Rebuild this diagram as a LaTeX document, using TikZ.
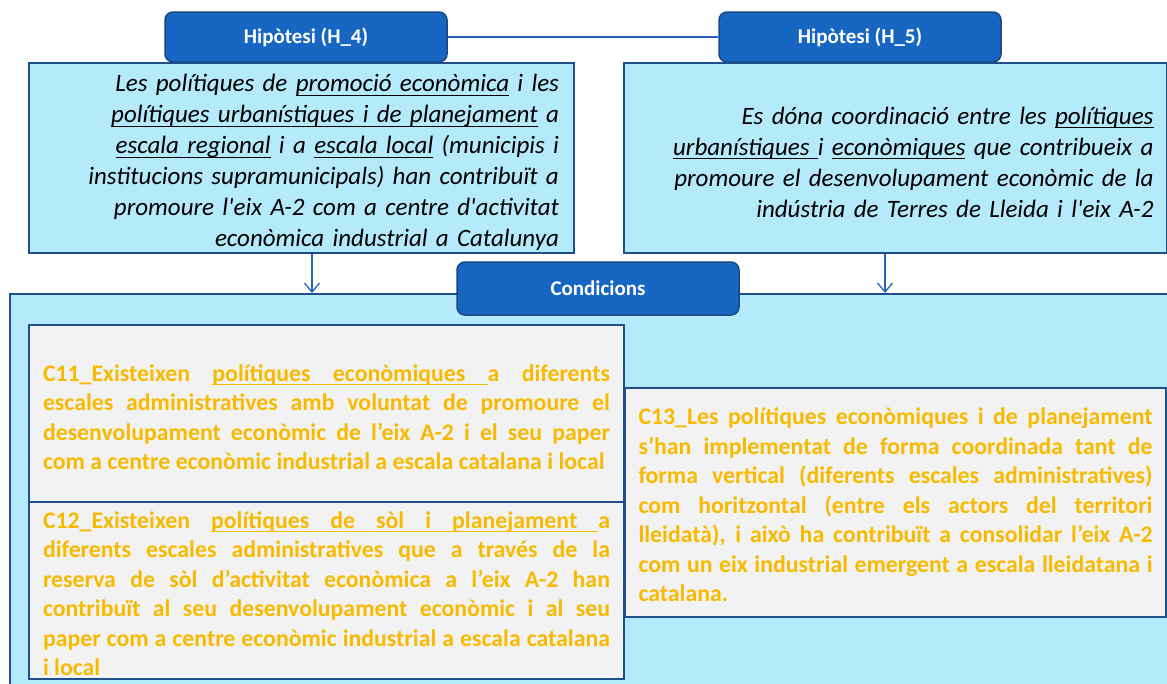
\documentclass[tikz,border=0pt]{standalone}
\usepackage{fontspec}
\setmainfont{Carlito}[Ligatures=TeXOff]
\usetikzlibrary{arrows.meta,calc}
\definecolor{tabblue}{RGB}{22,102,194}
\definecolor{tabedge}{RGB}{24,72,132}
\definecolor{boxedge}{RGB}{31,78,140}
\definecolor{cyanfill}{RGB}{181,234,250}
\definecolor{grayfill}{RGB}{242,242,242}
\definecolor{condtext}{RGB}{248,186,0}
\definecolor{linkblue}{RGB}{40,100,180}
\newcommand\ulw[1]{\leavevmode\setbox0\hbox{#1}\rlap{\vrule height -2.8pt depth 4.0pt width \wd0}\box0\relax}
\newcommand\ulsp{\leaders\vrule height -2.8pt depth 4.0pt\hskip\fontdimen2\font plus\fontdimen3\font minus\fontdimen4\font\relax}
\newcommand\topstrut[1]{\rule{0pt}{#1}}
\tikzset{
  tabbox/.style={draw=tabedge, line width=1.5pt, fill=tabblue, rounded corners=8pt,
    text=white, font=\fontsize{21}{24}\selectfont\bfseries, minimum width=282pt, inner sep=0pt},
  hypbox/.style={draw=boxedge, line width=2pt, fill=cyanfill, inner sep=0pt,
    font=\fontsize{25}{31}\selectfont\itshape, align=right},
  condbox/.style={draw=boxedge, line width=2pt, fill=grayfill, inner sep=0pt,
    text=condtext, font=\fontsize{23.8}{29.5}\selectfont\bfseries, align=justify},
  bigbox/.style={draw=boxedge, line width=2pt, fill=cyanfill},
  arr/.style={draw=linkblue, line width=1.3pt, -{Straight Barb[length=9pt,width=15pt,line width=1.3pt]}},
  link/.style={draw=linkblue, line width=1.3pt}
}
\begin{document}
\begin{tikzpicture}[x=1pt,y=-1pt]
\useasboundingbox (0,0) rectangle (1167,683);
\fill[white] (0,0) rectangle (1167,683);
% tabs of hypotheses
\node[tabbox, minimum height=50pt] (t4) at (306,37) {Hipòtesi (H\_4)};
\node[tabbox, minimum height=50pt] (t5) at (860,37) {Hipòtesi (H\_5)};
\draw[link] (t4.east) -- (t5.west);
% hypothesis boxes
\node[hypbox, minimum width=545pt, minimum height=190pt, text width=515pt] (h4) at (301.5,158) {%
\topstrut{27pt}Les polítiques de \ulw{promoció econòmica} i les\\
\ulw{polítiques urbanístiques i de planejament} a\\
\ulw{escala regional} i a \ulw{escala local} (municipis i\\
institucions supramunicipals) han contribuït a\\
promoure l'eix A-2 com a centre d'activitat\\
econòmica industrial a Catalunya};
\node[hypbox, minimum width=543pt, minimum height=190pt, text width=517pt] (h5) at (895,158) {%
\topstrut{26pt}Es dóna coordinació entre les \ulw{polítiques}\\
\ulw{urbanístiques\ }i \ulw{econòmiques} que contribueix a\\
promoure el desenvolupament econòmic de la\\
indústria de Terres de Lleida i l'eix A-2};
% big conditions box
\node[bigbox, minimum width=1172pt, minimum height=400pt, anchor=north west, inner sep=0pt] (big) at (9,293) {};
\draw[arr] ([xshift=10.5pt]h4.south) -- ([xshift=10.5pt]h4.south |- big.north);
\draw[arr] ([xshift=-10pt]h5.south) -- ([xshift=-10pt]h5.south |- big.north);
\node[tabbox, minimum height=53pt] (tc) at (598,288.5) {Condicions};
% condition boxes
\node[condbox, minimum width=595pt, minimum height=177pt, text width=567pt] (c11) at (326.5,413.5) {%
\topstrut{24pt}C11\_Existeixen \ulw{polítiques}\ulsp\ulw{econòmiques}\ulsp a diferents\linebreak
escales administratives amb voluntat de promoure el\linebreak
desenvolupament econòmic de l’eix A-2 i el seu paper\linebreak
com a centre econòmic industrial a escala catalana i local};
\node[condbox, minimum width=595pt, minimum height=177pt, text width=567pt] (c12) at (326.5,590.5) {%
\topstrut{23pt}C12\_Existeixen \ulw{polítiques}\ulsp\ulw{de}\ulsp\ulw{sòl}\ulsp\ulw{i}\ulsp\ulw{planejament}\ulsp a\linebreak
diferents escales administratives que a través de la\linebreak
reserva de sòl d’activitat econòmica a l’eix A-2 han\linebreak
contribuït al seu desenvolupament econòmic i al seu\linebreak
paper com a centre econòmic industrial a escala catalana\linebreak
i local};
\node[condbox, minimum width=541pt, minimum height=229pt, text width=514pt] (c13) at (895.5,502.5) {%
\topstrut{22pt}C13\_Les polítiques econòmiques i de planejament\linebreak
s’han implementat de forma coordinada tant de\linebreak
forma vertical (diferents escales administratives)\linebreak
com horitzontal (entre els actors del territori\linebreak
lleidatà), i això ha contribuït a consolidar l’eix A-2\linebreak
com un eix industrial emergent a escala lleidatana i\linebreak
catalana.};
\end{tikzpicture}
\end{document}
